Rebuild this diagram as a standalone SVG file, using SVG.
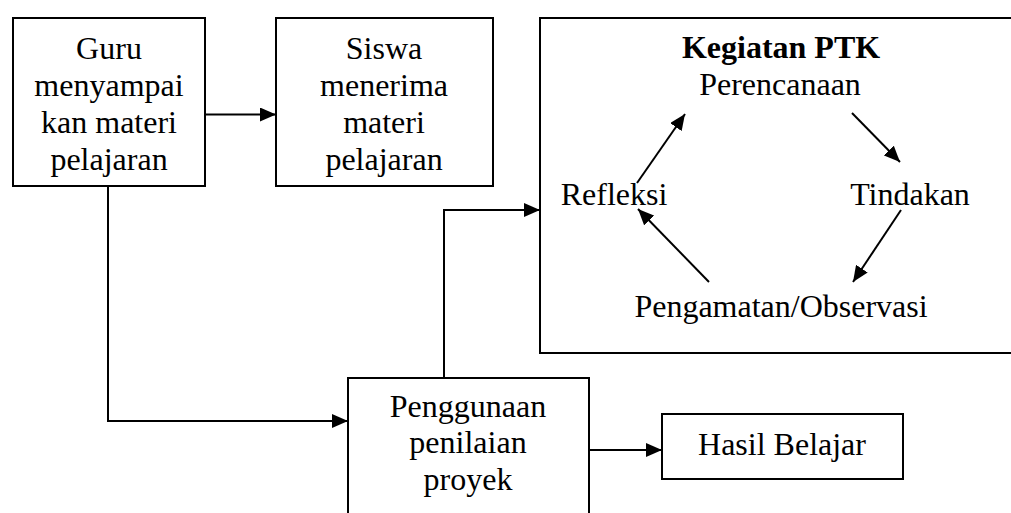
<svg xmlns="http://www.w3.org/2000/svg" width="1011" height="513" viewBox="0 0 1011 513">
<style>
.box{fill:#fff;stroke:#000;stroke-width:2}
text{font-family:'Liberation Serif','Tinos','Times New Roman','DejaVu Serif',serif;font-size:32px;fill:#000;text-anchor:middle}
.b{font-weight:bold}
.c{fill:none;stroke:#000;stroke-width:2}
</style>
<defs>
<marker id="ah" viewBox="0 0 16 14" refX="16" refY="7" markerWidth="16" markerHeight="14" markerUnits="userSpaceOnUse" orient="auto">
<path d="M0,0 L16,7 L0,14 Z" fill="#000"/>
</marker>
</defs>
<g id="guru">
<rect class="box" x="13" y="18" width="192" height="168"/>
<text x="109" y="59">Guru</text>
<text x="109" y="96">menyampai</text>
<text x="109" y="133">kan materi</text>
<text x="109" y="170">pelajaran</text>
</g>
<g id="siswa">
<rect class="box" x="276" y="18" width="217" height="168"/>
<text x="384" y="59">Siswa</text>
<text x="384" y="96">menerima</text>
<text x="384" y="133">materi</text>
<text x="384" y="170">pelajaran</text>
</g>
<g id="ptk">
<path class="c" d="M1015,18 H540 V353 H1015"/>
<text class="b" x="781" y="58">Kegiatan PTK</text>
<text x="780" y="95">Perencanaan</text>
<text x="614" y="205">Refleksi</text>
<text x="910" y="205">Tindakan</text>
<text x="781" y="317">Pengamatan/Observasi</text>
</g>
<g id="penggunaan">
<rect class="box" x="348" y="378" width="241" height="145"/>
<text x="468" y="417">Penggunaan</text>
<text x="468" y="453">penilaian</text>
<text x="468" y="490">proyek</text>
</g>
<g id="hasil">
<rect class="box" x="662" y="414" width="241" height="65"/>
<text x="782" y="455">Hasil Belajar</text>
</g>
<g id="connectors">
<line class="c" x1="205" y1="114.5" x2="276" y2="114.5" marker-end="url(#ah)"/>
<polyline class="c" points="108,186 108,421 348,421" marker-end="url(#ah)"/>
<polyline class="c" points="444,378 444,210 540,210" marker-end="url(#ah)"/>
<line class="c" x1="589" y1="450" x2="662" y2="450" marker-end="url(#ah)"/>
<line class="c" x1="637" y1="183" x2="685" y2="114" marker-end="url(#ah)"/>
<line class="c" x1="852" y1="113" x2="900" y2="162" marker-end="url(#ah)"/>
<line class="c" x1="901" y1="210" x2="853" y2="282" marker-end="url(#ah)"/>
<line class="c" x1="709" y1="282" x2="638" y2="209" marker-end="url(#ah)"/>
</g>
</svg>
